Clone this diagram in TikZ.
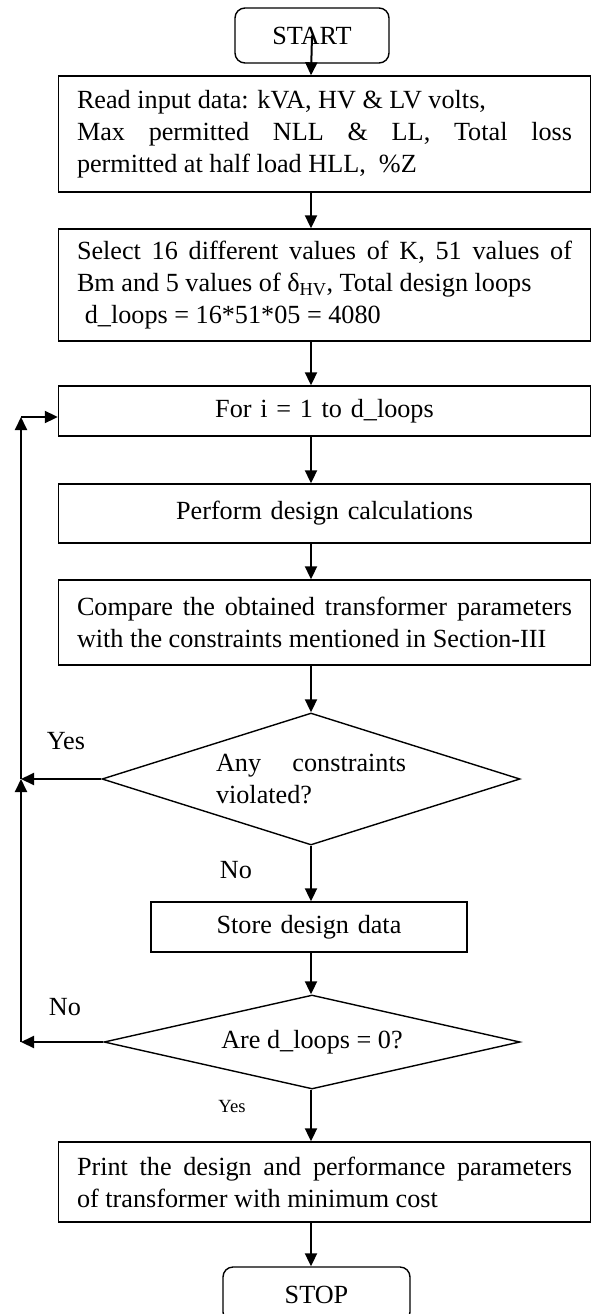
\documentclass[tikz,border=0pt]{standalone}
\usepackage{fontspec}
\setmainfont{Liberation Serif}
\usetikzlibrary{arrows.meta,shapes.geometric,calc}

\begin{document}
\begin{tikzpicture}[x=1pt,y=-1pt,
  every node/.style={font=\fontsize{26.2}{32}\selectfont},
  box/.style={draw, line width=1.4pt, rectangle, inner xsep=18.5pt, inner ysep=0pt, text width=495pt, align=justify},
  rbox/.style={draw, line width=1.4pt, rounded corners=10pt, minimum width=154pt, minimum height=55pt, inner sep=0pt},
  dec/.style={draw, line width=1.4pt, diamond, inner sep=0pt},
  arr/.style={line width=2pt, -{Triangle[length=13pt,width=12pt]}},
  lbl/.style={inner sep=0pt}]

\useasboundingbox (0,0) rectangle (592,1314);
\clip (0,0) rectangle (592,1314);

\coordinate (ax) at (311,0);

\node[rbox] (start) at (312,35.5) {START};

\node[box, minimum height=116pt] (read) at (324.5,134)
  {Read input data: kVA, HV \& LV volts,\newline Max permitted NLL \& LL, Total loss\linebreak permitted at half load HLL,~ \%Z};

\node[box, minimum height=112pt] (sel) at (324.5,285)
  {Select 16 different values of K, 51 values of\linebreak Bm and 5 values of δ\textsubscript{HV}, Total design loops\newline\hspace*{0.3em}d\_loops = 16*51*05 = 4080};

\node[box, minimum height=50pt, align=center] (for) at (324.5,411) {For i = 1 to d\_loops};

\node[box, minimum height=59pt, align=center] (perf) at (324.5,513.5) {Perform design calculations};

\node[box, minimum height=85pt] (cmp) at (324.5,622.5)
  {Compare the obtained transformer parameters\linebreak with the constraints mentioned in Section-III};

\node[dec, aspect=3.17, minimum width=418pt, minimum height=132pt, text width=190pt, align=justify] (d1) at (311,779)
  {Any constraints\linebreak violated?};

\node[box, text width=279pt, minimum height=50pt, align=center] (store) at (309,927) {Store design data};

\node[dec, aspect=4.4, minimum width=416pt, minimum height=94pt] (d2) at (312,1042) {Are d\_loops = 0?};

\node[box, minimum height=80pt] (print) at (324.5,1182)
  {Print the design and performance parameters\linebreak of transformer with minimum cost};

\node[rbox, minimum width=187pt] (stop) at (316.5,1294.5) {STOP};

% labels
\node[lbl] (yes1) at (66,741) {Yes};
\node[lbl] (no1) at (236,870) {No};
\node[lbl] (no2) at (65,1007) {No};
\node[lbl, font=\fontsize{18.6}{20}\selectfont] (yes2) at (232,1106) {Yes};

% main flow
\draw[arr] (start.center) -- (ax |- read.north);
\draw[arr] (ax |- read.south) -- (ax |- sel.north);
\draw[arr] (ax |- sel.south) -- (ax |- for.north);
\draw[arr] (ax |- for.south) -- (ax |- perf.north);
\draw[arr] (ax |- perf.south) -- (ax |- cmp.north);
\draw[arr] (ax |- cmp.south) -- (d1.north);
\draw[arr] (d1.south) -- (ax |- store.north);
\draw[arr] (ax |- store.south) -- (ax |- d2.north);
\draw[arr] (ax |- d2.south) -- (ax |- print.north);
\draw[arr] (ax |- print.south) -- (ax |- stop.north);

% loop back
\coordinate (l0) at (21,417);
\coordinate (l1) at (21,779);
\coordinate (l2) at (21,1042);
\draw[arr] (d1.west) -- (l1);
\draw[arr] (d2.west) -- (l2);
\draw[arr] (l2) -- (l1);
\draw[arr] (l1) -- (l0);
\draw[arr] (l0) -- (l0 -| for.west);
\end{tikzpicture}
\end{document}
